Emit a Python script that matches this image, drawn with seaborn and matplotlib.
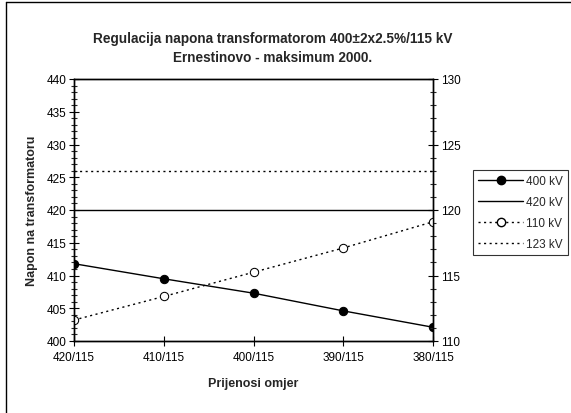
import matplotlib
matplotlib.use("Agg")
import matplotlib.pyplot as plt
import seaborn as sns
import pandas as pd
from matplotlib.lines import Line2D
from matplotlib.ticker import MultipleLocator
from matplotlib import font_manager

categories = ["420/115", "410/115", "400/115", "390/115", "380/115"]
v400 = [411.8, 409.5, 407.3, 404.6, 402.1]
v420 = [420, 420, 420, 420, 420]
v110 = [111.6, 113.4, 115.25, 117.1, 119.1]
v123 = [123, 123, 123, 123, 123]

sns.set_style("ticks")
plt.rcParams['font.family'] = ['Liberation Sans', 'DejaVu Sans']

names = {f.name for f in font_manager.fontManager.ttflist}
if "Liberation Sans Narrow" in names:
    title_family = ["Liberation Sans Narrow", "Liberation Sans"]
    title_size = 11.5
else:
    title_family = ["Liberation Sans", "DejaVu Sans"]
    title_size = 9.8

fig = plt.figure(figsize=(5.71, 4.14), dpi=100)
ax = fig.add_axes([74/571, 1-342/414, (433-74)/571, (342-80)/414])
ax2 = ax.twinx()

df = pd.DataFrame({"x": categories, "v400": v400, "v420": v420, "v110": v110, "v123": v123})

dot = (0, (1.5, 2.5))
sns.lineplot(data=df, x="x", y="v400", ax=ax, color="black", lw=1.0, marker="o",
             markersize=6, markerfacecolor="black", markeredgecolor="black", sort=False)
sns.lineplot(data=df, x="x", y="v420", ax=ax, color="black", lw=1.0, sort=False)
sns.lineplot(data=df, x="x", y="v110", ax=ax2, color="black", lw=1.0, ls=dot,
             marker="o", markersize=6, markerfacecolor="white", markeredgecolor="black", sort=False)
sns.lineplot(data=df, x="x", y="v123", ax=ax2, color="black", lw=1.0, ls=dot, sort=False)

ax.set_xlim(0, 4)
ax.set_ylim(400, 440)
ax2.set_ylim(110, 130)
ax.yaxis.set_major_locator(MultipleLocator(5))
ax.yaxis.set_minor_locator(MultipleLocator(1))
ax2.yaxis.set_major_locator(MultipleLocator(5))
ax2.yaxis.set_minor_locator(MultipleLocator(1))

for a in (ax, ax2):
    for s in a.spines.values():
        s.set_visible(True)
        s.set_color("black")
        s.set_linewidth(1.0)
    a.tick_params(axis="both", which="major", direction="inout", length=7, width=0.8,
                  labelsize=8.5, colors="black", pad=2)
    a.tick_params(axis="y", which="minor", direction="inout", length=4, width=0.8)
ax.set_xticks(range(len(categories)))
ax.set_xticklabels(categories)
ax.tick_params(axis="x", pad=4)
ax.set_xlabel("Prijenosi omjer", fontsize=9, fontweight="bold", labelpad=10)
ax.set_ylabel("Napon na transformatoru", fontsize=9, fontweight="bold", labelpad=6)
ax2.set_ylabel("")
ax.grid(False)
ax2.grid(False)

fig.text(0.477, 1-39/414, "Regulacija napona transformatorom 400±2x2.5%/115 kV",
         ha="center", va="center", fontsize=title_size, fontweight="bold", family=title_family)
fig.text(0.477, 1-58/414, "Ernestinovo - maksimum 2000.",
         ha="center", va="center", fontsize=title_size, fontweight="bold", family=title_family)

handles = [
    Line2D([], [], color="black", lw=1.0, marker="o", markersize=6, markerfacecolor="black"),
    Line2D([], [], color="black", lw=1.0),
    Line2D([], [], color="black", lw=1.0, ls=dot, marker="o", markersize=6, markerfacecolor="white"),
    Line2D([], [], color="black", lw=1.0, ls=dot),
]
leg = fig.legend(handles, ["400 kV", "420 kV", "110 kV", "123 kV"],
                 loc="upper left", bbox_to_anchor=(473/571, 1-171/414),
                 fontsize=8.5, frameon=True, fancybox=False, handlelength=3.8,
                 handletextpad=0.2, borderpad=0.45, labelspacing=0.75, borderaxespad=0)
leg.get_frame().set_edgecolor("black")
leg.get_frame().set_linewidth(0.8)

fig.add_artist(Line2D([6/571, 6/571], [0, 1-3/414], color="black", lw=1.0, transform=fig.transFigure))
fig.add_artist(Line2D([6/571, 1.01], [1-3/414, 1-3/414], color="black", lw=1.0, transform=fig.transFigure))

fig.savefig("out.png", dpi=100)
